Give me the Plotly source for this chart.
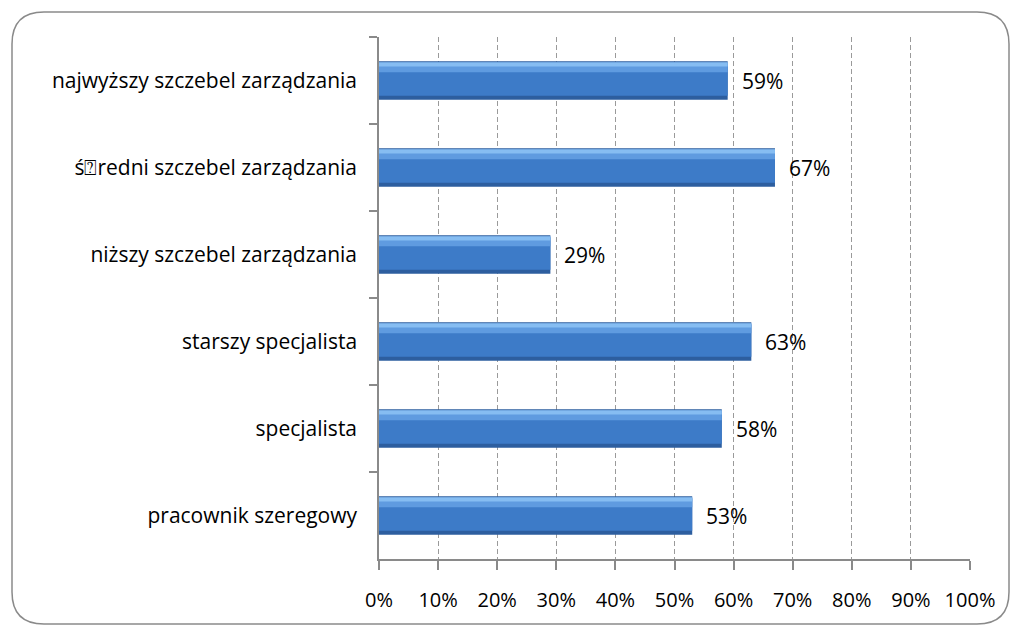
import plotly.graph_objects as go

categories = ["najwyższy szczebel zarządzania", "ś\u2370redni szczebel zarządzania",
              "niższy szczebel zarządzania", "starszy specjalista",
              "specjalista", "pracownik szeregowy"]
values = [0.59, 0.67, 0.29, 0.63, 0.58, 0.53]
labels = ["59%", "67%", "29%", "63%", "58%", "53%"]

FONT = "'Open Sans', sans-serif"

# figure is placed inside the page's 8px body margin
W, H = 1002, 619
l, r, t, b = 371, 40, 29, 68

fig = go.Figure()
# layered bars imitate the bevelled gradient look
layers = [
    (0.44, -0.22, "#2d5e9f"),
    (0.37, -0.195, "#3d7bc8"),
    (0.11, -0.205, "#5f9be0"),
    (0.05, -0.21, "#86bdf2"),
]
for w, off, col in layers:
    fig.add_trace(go.Bar(
        x=values, y=categories, orientation="h", width=w, offset=off,
        marker=dict(color=col, line=dict(width=0)), hoverinfo="skip",
    ))

for v, c, txt in zip(values, categories, labels):
    fig.add_annotation(x=v, y=c, text=txt, showarrow=False, xanchor="left",
                       xshift=12, font=dict(family=FONT, size=21, color="#000"))

pw, ph = W - l - r, H - t - b
def px(x):
    return (x - l) / pw
def py(y):
    return (H - b - y) / ph
x0, y0, x1, y1, rad = 4, 4, 1001, 616, 32
path = (f"M {px(x0+rad)},{py(y0)} L {px(x1-rad)},{py(y0)} "
        f"Q {px(x1)},{py(y0)} {px(x1)},{py(y0+rad)} "
        f"L {px(x1)},{py(y1-rad)} Q {px(x1)},{py(y1)} {px(x1-rad)},{py(y1)} "
        f"L {px(x0+rad)},{py(y1)} Q {px(x0)},{py(y1)} {px(x0)},{py(y1-rad)} "
        f"L {px(x0)},{py(y0+rad)} Q {px(x0)},{py(y0)} {px(x0+rad)},{py(y0)} Z")

fig.update_layout(
    width=W, height=H,
    margin=dict(l=l, r=r, t=t, b=b, autoexpand=False),
    paper_bgcolor="white", plot_bgcolor="white",
    barmode="overlay", showlegend=False,
    font=dict(family=FONT, size=21, color="#000"),
    shapes=[dict(type="path", xref="paper", yref="paper", path=path,
                 line=dict(color="#8a8a8a", width=1.5), layer="below")],
)

fig.update_xaxes(range=[0, 1], dtick=0.1, tickformat=".0%",
                 showgrid=True, gridcolor="#9a9a9a", griddash="5px,3px", gridwidth=1.2,
                 showline=True, linecolor="#8a8a8a", linewidth=1.5,
                 ticks="outside", ticklen=9, tickcolor="#8a8a8a", tickwidth=1.5,
                 ticklabelstandoff=13,
                 tickfont=dict(size=20), zeroline=False, fixedrange=True)
fig.update_yaxes(categoryorder="array", categoryarray=categories, autorange="reversed",
                 showline=True, linecolor="#8a8a8a", linewidth=1.5,
                 ticks="outside", ticklen=8, tickcolor="#8a8a8a", tickwidth=1.5,
                 tickson="boundaries",
                 ticklabelstandoff=16, tickfont=dict(size=21), showgrid=False)

fig.write_html("out.html")
